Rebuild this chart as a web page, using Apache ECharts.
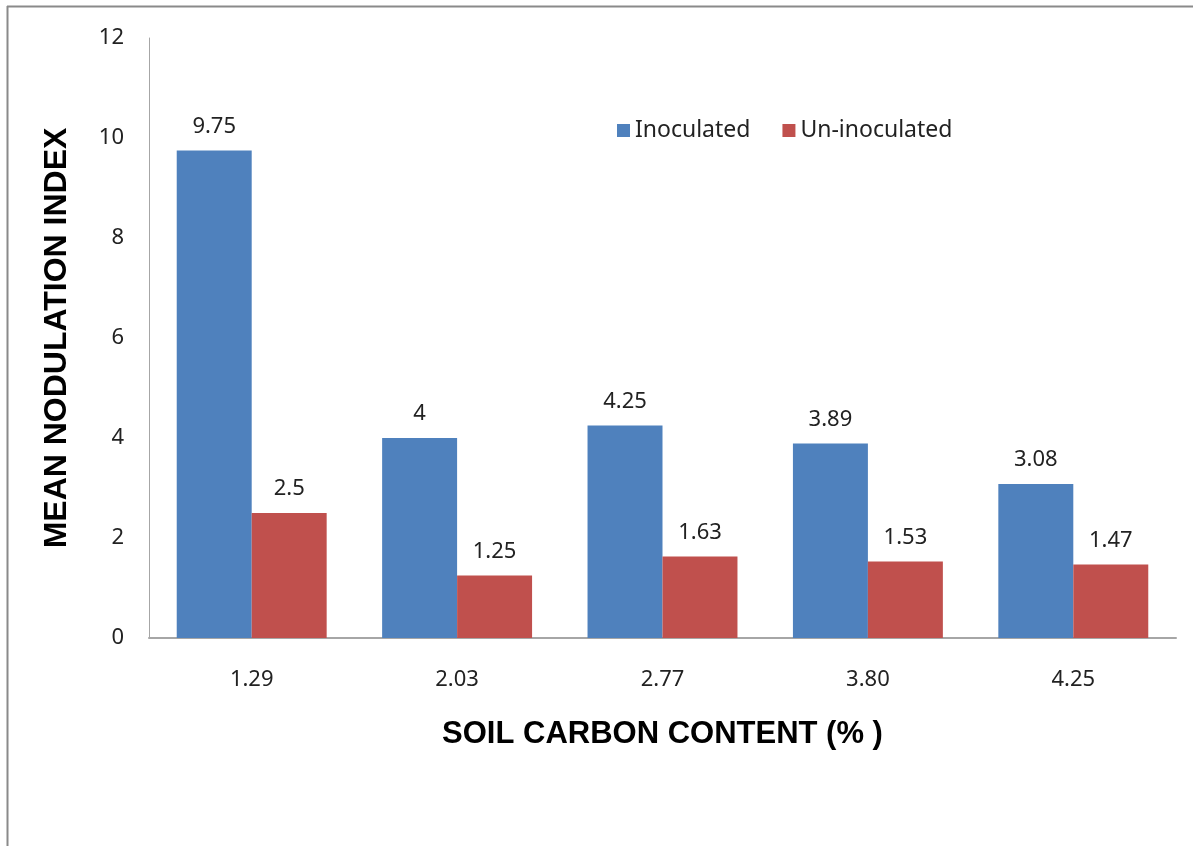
<!DOCTYPE html>
<html>
<head>
<meta charset="utf-8">
<style>
  html, body { margin: 0; padding: 0; background: #fff; }
  #chart { width: 1193px; height: 846px; }
</style>
<script src="https://cdn.jsdelivr.net/npm/echarts@6/dist/echarts.min.js"></script>
</head>
<body>
<div id="chart"></div>
<script>
// Soil carbon content categories (%)
const categories = ['1.29', '2.03', '2.77', '3.80', '4.25'];
// Mean nodulation index per treatment
const inoculated = [9.75, 4, 4.25, 3.89, 3.08];
const uninoculated = [2.5, 1.25, 1.63, 1.53, 1.47];
const seriesNames = ['Inoculated', 'Un-inoculated'];
const yTicks = { min: 0, max: 12, interval: 2 };

const labelFont = '"Noto Sans", sans-serif';
const titleFont = '"Liberation Sans", Arial, sans-serif';

const chart = echarts.init(document.getElementById('chart'), null, { renderer: 'canvas' });

const barLabel = {
  show: true,
  position: 'top',
  distance: 13,
  color: '#222',
  fontFamily: labelFont,
  fontSize: 22,
  formatter: p => String(p.value)
};

chart.setOption({
  animation: false,
  backgroundColor: '#fff',
  graphic: [
    { type: 'line', shape: { x1: 7, y1: 6.5, x2: 1193, y2: 6.5 }, style: { stroke: '#8a8a8a', lineWidth: 2 } },
    { type: 'line', shape: { x1: 7.5, y1: 6, x2: 7.5, y2: 846 }, style: { stroke: '#8a8a8a', lineWidth: 2 } }
  ],
  legend: {
    data: seriesNames,
    left: 612,
    top: 114,
    itemWidth: 13,
    itemHeight: 13,
    itemGap: 32,
    icon: 'rect',
    textStyle: { fontFamily: labelFont, fontSize: 23, color: '#222' }
  },
  grid: { left: 149, right: 17, top: 38, bottom: 208, containLabel: false },
  xAxis: {
    type: 'category',
    data: categories,
    name: 'SOIL CARBON CONTENT (% )',
    nameLocation: 'middle',
    nameGap: 81,
    nameTextStyle: { fontFamily: titleFont, fontWeight: 'bold', fontSize: 31, color: '#000' },
    axisLine: { show: true, lineStyle: { color: '#a6a6a6', width: 2 } },
    axisTick: { show: false },
    axisLabel: { margin: 31, fontFamily: labelFont, fontSize: 22, color: '#222' }
  },
  yAxis: {
    type: 'value',
    min: yTicks.min,
    max: yTicks.max,
    interval: yTicks.interval,
    name: 'MEAN NODULATION INDEX',
    nameLocation: 'middle',
    nameGap: 76,
    nameRotate: 90,
    nameTextStyle: { fontFamily: titleFont, fontWeight: 'bold', fontSize: 32, color: '#000' },
    axisLine: { show: true, lineStyle: { color: '#a6a6a6', width: 1 } },
    axisTick: { show: false },
    splitLine: { show: false },
    axisLabel: { margin: 25, fontFamily: labelFont, fontSize: 22, color: '#222' }
  },
  series: [
    {
      name: seriesNames[0],
      type: 'bar',
      data: inoculated,
      barGap: '0%',
      barCategoryGap: '27%',
      itemStyle: { color: '#4F81BD' },
      label: barLabel
    },
    {
      name: seriesNames[1],
      type: 'bar',
      data: uninoculated,
      barGap: '0%',
      barCategoryGap: '27%',
      itemStyle: { color: '#C0504D' },
      label: barLabel
    }
  ]
});
</script>
</body>
</html>
